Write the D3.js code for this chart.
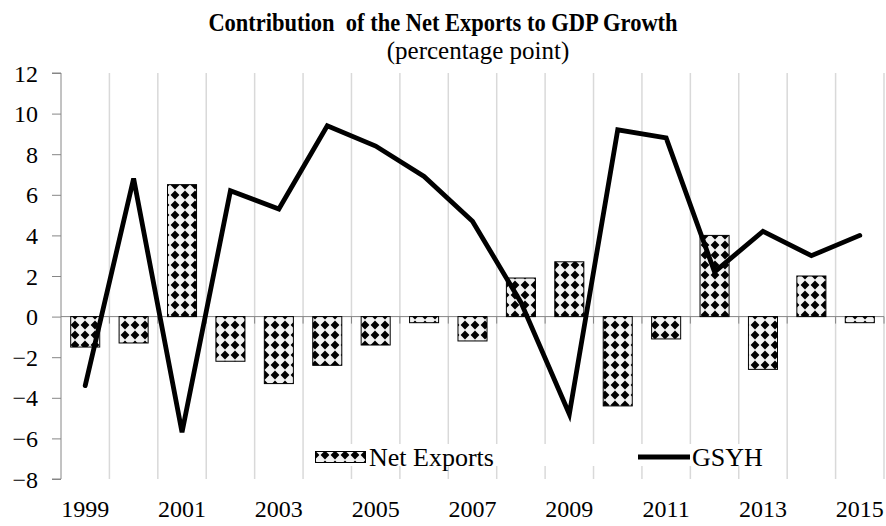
<!DOCTYPE html>
<html>
<head>
<meta charset="utf-8">
<script src="https://cdn.jsdelivr.net/npm/d3@7"></script>
<style>
  html, body { margin: 0; padding: 0; background: #fff; }
  svg { display: block; }
  text { font-family: "Liberation Serif", "Times New Roman", serif; fill: #000; }
</style>
</head>
<body>
<svg id="chart" width="886" height="526"></svg>
<script>
// Years on the category axis
const years = [1999, 2000, 2001, 2002, 2003, 2004, 2005, 2006, 2007, 2008,
               2009, 2010, 2011, 2012, 2013, 2014, 2015];
// Contribution of net exports to GDP growth (percentage points)
const netExports = [-1.5, -1.3, 6.5, -2.2, -3.3, -2.4, -1.4, -0.3, -1.2, 1.9,
                    2.7, -4.4, -1.1, 4.0, -2.6, 2.0, -0.3];
// GDP growth (GSYH, %)
const gsyh = [-3.4, 6.8, -5.7, 6.2, 5.3, 9.4, 8.4, 6.9, 4.7, 0.7,
              -4.8, 9.2, 8.8, 2.2, 4.2, 3.0, 4.0];
const yTicks = [-8, -6, -4, -2, 0, 2, 4, 6, 8, 10, 12];
const xLabelYears = [1999, 2001, 2003, 2005, 2007, 2009, 2011, 2013, 2015];

const svg = d3.select("#chart");
const plotL = 61, plotR = 884, plotT = 73, plotB = 479;

const x = d3.scaleBand().domain(years).range([plotL, plotR]).paddingInner(0).paddingOuter(0);
const y = d3.scaleLinear().domain([-8, 12]).range([plotB, plotT]);
const barW = x.bandwidth() * 0.6;

// Diamond fill pattern for the bars
const defs = svg.append("defs");
const pat = defs.append("pattern")
  .attr("id", "diamonds")
  .attr("patternUnits", "userSpaceOnUse")
  .attr("width", 10).attr("height", 10);
pat.append("rect").attr("width", 10).attr("height", 10).attr("fill", "#f2f2f2");
pat.append("path").attr("d", "M5,0.6 L9.4,5 L5,9.4 L0.6,5 Z").attr("fill", "#000");

// Vertical gridlines at category boundaries
const bounds = years.map(d => x(d)).concat([plotR]).slice(1);
svg.append("g").selectAll("line").data(bounds).join("line")
  .attr("x1", d => d).attr("x2", d => d)
  .attr("y1", plotT).attr("y2", plotB)
  .attr("stroke", "#d9d9d9").attr("stroke-width", 1.5);

// Value axis
const yAxis = svg.append("g").attr("transform", `translate(${plotL},0)`)
  .call(d3.axisLeft(y).tickValues(yTicks).tickSize(9).tickPadding(14).tickFormat(d3.format("d")));
yAxis.select(".domain").attr("stroke", "#868686").attr("d", `M-9,${plotT}H0V${plotB}H-9`);
yAxis.selectAll(".tick line").attr("stroke", "#868686");
yAxis.selectAll(".tick text").style("font-size", "24px").attr("dy", "0.34em");

// Category axis crossing at zero
const zero = y(0);
svg.append("line").attr("x1", plotL).attr("x2", plotR).attr("y1", zero).attr("y2", zero)
  .attr("stroke", "#868686").attr("stroke-width", 1);
svg.append("g").selectAll("line").data(bounds).join("line")
  .attr("x1", d => d).attr("x2", d => d)
  .attr("y1", zero).attr("y2", zero + 7)
  .attr("stroke", "#868686");

// Year labels along the bottom
svg.append("g").selectAll("text").data(xLabelYears).join("text")
  .attr("x", d => x(d) + x.bandwidth() / 2)
  .attr("y", 517)
  .attr("text-anchor", "middle")
  .style("font-size", "24px")
  .text(d => d);

// Net export bars
svg.append("g").selectAll("rect").data(years.map((d, i) => ({ year: d, v: netExports[i] }))).join("rect")
  .attr("x", d => x(d.year) + (x.bandwidth() - barW) / 2)
  .attr("width", barW)
  .attr("y", d => y(Math.max(0, d.v)))
  .attr("height", d => Math.abs(y(d.v) - y(0)))
  .attr("fill", "url(#diamonds)")
  .attr("stroke", "#000").attr("stroke-width", 1);

// GDP growth line
const line = d3.line()
  .x((d, i) => x(years[i]) + x.bandwidth() / 2)
  .y(d => y(d));
svg.append("path").datum(gsyh)
  .attr("d", line)
  .attr("fill", "none")
  .attr("stroke", "#000").attr("stroke-width", 4.8)
  .attr("stroke-linejoin", "miter").attr("stroke-linecap", "round");

// Legend
const lg = svg.append("g");
lg.append("rect").attr("x", 312).attr("y", 444).attr("width", 470).attr("height", 22).attr("fill", "#fff");
lg.append("rect").attr("x", 315.5).attr("y", 451.5).attr("width", 50).attr("height", 11)
  .attr("fill", "url(#diamonds)").attr("stroke", "#000");
lg.append("text").attr("x", 369).attr("y", 466).style("font-size", "26px").text("Net Exports");
lg.append("line").attr("x1", 638).attr("x2", 690).attr("y1", 457).attr("y2", 457)
  .attr("stroke", "#000").attr("stroke-width", 4.8);
lg.append("text").attr("x", 692).attr("y", 466).style("font-size", "26px").text("GSYH");

// Titles (the main title is set in a condensed bold face)
svg.append("text")
  .attr("transform", "translate(443,31) scale(0.9,1)")
  .attr("text-anchor", "middle")
  .style("font-size", "25px").style("font-weight", "bold").style("white-space", "pre")
  .text("Contribution  of the Net Exports to GDP Growth");
svg.append("text").attr("x", 478).attr("y", 59).attr("text-anchor", "middle")
  .style("font-size", "25px")
  .text("(percentage point)");
</script>
</body>
</html>
